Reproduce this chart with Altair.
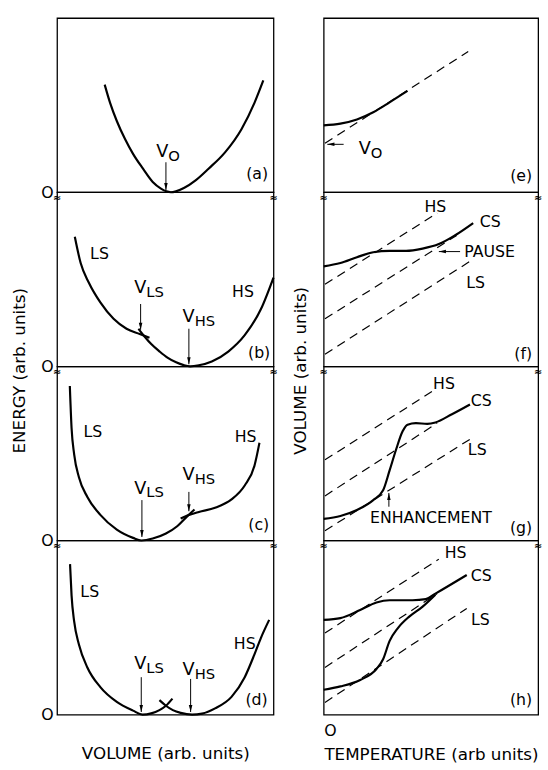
import altair as alt
import pandas as pd

FONT = "DejaVu Sans"

# ---------------- panel (a): energy vs volume ----------------
A_X = [22.0, 24.5, 27.6, 31.4, 35.1, 39.7, 44.2, 48.0, 50.5, 52.6, 54.9, 58.6, 64.0, 70.0, 77.6, 85.2, 91.2, 95.3]
A_Y = [61.8, 51.3, 40.9, 30.5, 22.0, 13.5, 5.9, 2.1, 0.5, 0.0, 0.5, 2.4, 6.8, 13.5, 22.9, 36.2, 51.3, 64.2]
A_LABELS = [("(a)", 97.5, 10.6)]
A_VLABELS = [("V", "O", 51.4, 22.8)]
A_ARROWS = [(50.3, 17.2, 50.3, 1.2)]

# ---------------- panel (b) ----------------
B_LS_X = [8.2, 10.9, 14.7, 20.0, 26.1, 32.1, 38.2, 42.7]
B_LS_Y = [74.4, 59.3, 48.0, 36.7, 27.3, 21.6, 18.6, 16.4]
B_HS_X = [37.6, 40.5, 43.5, 47.3, 51.0, 55.0, 58.5, 61.5, 65.5, 71.5, 79.1, 86.7, 94.2, 100.0]
B_HS_Y = [21.6, 17.0, 12.8, 8.6, 5.0, 2.3, 0.7, 0.0, 0.6, 2.8, 8.5, 17.9, 32.9, 51.0]
B_LABELS = [("LS", 19.6, 64.6), ("HS", 85.9, 42.9), ("(b)", 98.5, 7.5)]
B_VLABELS = [("V", "LS", 41.2, 44.8), ("V", "HS", 63.6, 28.2)]
B_ARROWS = [(38.6, 35.8, 38.6, 21.0), (60.9, 21.6, 60.9, 1.2)]

# ---------------- panel (c) ----------------
C_LS_X = [5.9, 6.7, 7.9, 10.1, 14.0, 20.0, 27.6, 35.1, 39.0, 44.2, 50.3, 55.5, 60.2, 63.5]
C_LS_Y = [88.7, 64.6, 49.5, 36.3, 25.0, 14.7, 6.2, 1.5, 0.0, 1.1, 4.0, 8.2, 14.0, 17.8]
C_HS_X = [57.1, 60.2, 65.5, 73.0, 80.6, 86.7, 91.2, 93.5]
C_HS_Y = [12.6, 14.3, 16.4, 18.8, 23.6, 31.6, 42.9, 56.1]
C_LABELS = [("LS", 16.5, 62.3), ("HS", 87.1, 59.3), ("(c)", 98.0, 8.6)]
C_VLABELS = [("V", "LS", 41.2, 29.8), ("V", "HS", 63.6, 37.3)]
C_ARROWS = [(39.2, 23.2, 39.2, 2.0), (60.9, 27.9, 60.9, 16.8)]

# ---------------- panel (d) ----------------
D_LS_X = [6.0, 6.7, 7.9, 10.1, 14.0, 20.0, 27.6, 35.1, 39.5, 43.5, 47.3, 50.3, 53.3]
D_LS_Y = [86.4, 68.5, 53.5, 40.3, 27.1, 15.8, 7.3, 2.3, 0.0, 0.7, 2.6, 5.1, 9.2]
D_HS_X = [47.3, 50.3, 53.5, 57.1, 62.4, 67.0, 73.0, 80.6, 86.7, 91.2, 94.2, 98.0]
D_HS_Y = [8.3, 5.1, 2.6, 1.0, 0.0, 0.6, 3.6, 10.2, 21.5, 34.6, 44.1, 54.4]
D_LABELS = [("LS", 15.1, 70.4), ("HS", 86.7, 40.7), ("(d)", 97.3, 8.3)]
D_VLABELS = [("V", "LS", 41.2, 29.0), ("V", "HS", 63.6, 25.8)]
D_ARROWS = [(38.9, 21.5, 38.9, 1.5), (61.7, 20.5, 61.7, 1.5)]

# ---------------- panel (e): volume vs temperature ----------------
E_CURVE_X = [0.0, 7.8, 15.5, 23.1, 30.7, 39.1]
E_CURVE_Y = [38.4, 39.4, 41.8, 45.9, 51.6, 58.2]
E_DASH_X = [0.6, 67.4]
E_DASH_Y = [28.1, 80.8]
E_LABELS = [("(e)", 97.2, 9.2)]
E_VLABELS = [("V", "O", 22.0, 24.9)]
E_ARROWS = [(9.3, 27.5, 1.7, 27.5)]

# ---------------- panel (f) ----------------
F_CS_X = [0.0, 7.8, 15.5, 23.1, 30.7, 38.4, 46.1, 53.7, 61.3, 69.7]
F_CS_Y = [57.4, 59.3, 62.7, 65.5, 66.3, 66.3, 67.6, 70.2, 75.3, 82.3]
F_HS_X = [0.6, 52.9]
F_HS_Y = [47.1, 88.0]
F_MID_X = [0.6, 62.0]
F_MID_Y = [27.3, 75.2]
F_LS_X = [0.6, 68.2]
F_LS_Y = [7.0, 60.3]
F_LABELS = [("HS", 52.1, 91.7), ("CS", 77.7, 82.9), ("PAUSE", 65.5, 65.9), ("LS", 70.8, 48.0), ("(f)", 97.2, 7.0)]
F_ARROWS = [(63.6, 65.9, 53.7, 65.9)]

# ---------------- panel (g) ----------------
G_CS_X = [0.0, 7.8, 15.5, 23.1, 27.7, 30.7, 33.8, 36.8, 39.1, 43.0, 48.3, 52.1, 59.8, 68.2]
G_CS_Y = [12.4, 14.1, 17.5, 23.2, 28.8, 40.1, 52.4, 62.7, 66.5, 67.4, 67.0, 67.8, 72.5, 78.1]
G_HS_X = [0.6, 51.4]
G_HS_Y = [46.3, 86.3]
G_MID_X = [0.6, 52.9]
G_MID_Y = [25.6, 67.4]
G_LS_X = [0.6, 69.7]
G_LS_Y = [5.6, 59.3]
G_LABELS = [("HS", 56.1, 90.0), ("CS", 73.5, 80.0), ("LS", 71.6, 51.8), ("ENHANCEMENT", 21.6, 12.8), ("(g)", 97.2, 7.2)]
G_ARROWS = [(30.4, 19.4, 30.4, 27.3)]

# ---------------- panel (h) ----------------
H_UP_X = [0.0, 7.8, 17.0, 24.6, 30.7, 41.4, 47.6, 52.1, 66.7]
H_UP_Y = [54.4, 55.4, 60.1, 64.4, 65.7, 65.7, 66.3, 69.5, 80.2]
H_LOW_X = [0.0, 7.8, 17.0, 24.6, 27.7, 30.7, 34.6, 39.9, 46.0, 52.1]
H_LOW_Y = [14.3, 16.2, 19.9, 26.2, 31.8, 42.2, 49.7, 56.3, 61.9, 68.9]
H_HS_X = [0.6, 53.7]
H_HS_Y = [46.9, 89.3]
H_MID_X = [0.6, 52.9]
H_MID_Y = [27.1, 69.5]
H_LS_X = [0.6, 66.7]
H_LS_Y = [7.0, 61.0]
H_LABELS = [("HS", 61.5, 93.0), ("CS", 73.5, 79.8), ("LS", 73.1, 54.4), ("(h)", 97.2, 8.3)]

BREAK_X = [0.0, 100.0]
BREAK_Y = [100.0, 100.0]

W_L, W_R, H = 220, 218, 177
SCALE = alt.Scale(domain=[0, 100], nice=False, zero=False)
FRAME = alt.ViewBackground(stroke="black", strokeWidth=1.3)

HEAD = {
    "down": "M-0.45,-1.8 L0.45,-1.8 L0,0 Z",
    "up": "M-0.45,1.8 L0.45,1.8 L0,0 Z",
    "left": "M0,0 L1.8,-0.45 L1.8,0.45 Z",
    "right": "M0,0 L-1.8,-0.45 L-1.8,0.45 Z",
}


def xy(xs, ys):
    return pd.DataFrame({"x": xs, "y": ys})


def build_panel(width, solid=(), dashed=(), labels=(), vlabels=(), arrows=(),
                breaks=False, xaxis=None, yaxis=None):
    X = alt.X("x:Q", scale=SCALE, axis=xaxis)
    Y = alt.Y("y:Q", scale=SCALE, axis=yaxis)
    layers = []
    for xs_, ys_ in solid:
        layers.append(alt.Chart(xy(xs_, ys_)).mark_line(
            color="black", strokeWidth=2.2, interpolate="monotone").encode(x=X, y=Y))
    for xs_, ys_ in dashed:
        layers.append(alt.Chart(xy(xs_, ys_)).mark_line(
            color="black", strokeWidth=1.2, strokeDash=[9, 6]).encode(x=X, y=Y))
    if labels:
        groups = {"center": [], "right": [], "left": []}
        for t, lx, ly in labels:
            if t.startswith("("):
                groups["right"].append((t, lx, ly))
            elif t in ("PAUSE", "ENHANCEMENT"):
                groups["left"].append((t, lx, ly))
            else:
                groups["center"].append((t, lx, ly))
        for al, rows in groups.items():
            if not rows:
                continue
            df = pd.DataFrame(rows, columns=["t", "x", "y"])
            layers.append(alt.Chart(df).mark_text(
                font=FONT, fontSize=16, align=al, baseline="middle", color="black").encode(
                x=X, y=Y, text="t:N"))
    if vlabels:
        df = pd.DataFrame(vlabels, columns=["m", "s", "x", "y"])
        layers.append(alt.Chart(df).mark_text(
            font=FONT, fontSize=18, align="right", baseline="middle", color="black").encode(
            x=X, y=Y, text="m:N"))
        layers.append(alt.Chart(df).mark_text(
            font=FONT, fontSize=15, align="left", baseline="middle", dy=4, color="black").encode(
            x=X, y=Y, text="s:N"))
    if arrows:
        df = pd.DataFrame(arrows, columns=["x", "y", "x2", "y2"])
        layers.append(alt.Chart(df).mark_rule(color="black", strokeWidth=1).encode(
            x=X, y=Y, x2="x2:Q", y2="y2:Q"))
        shapes = []
        for x1, y1, x2, y2 in arrows:
            if x1 == x2:
                shapes.append(HEAD["down"] if y2 < y1 else HEAD["up"])
            else:
                shapes.append(HEAD["left"] if x2 < x1 else HEAD["right"])
        hd = pd.DataFrame({"x": df["x2"], "y": df["y2"], "shp": shapes})
        layers.append(alt.Chart(hd).mark_point(
            filled=True, color="black", size=64, opacity=1).encode(
            x=X, y=Y, shape=alt.Shape("shp:N", scale=None, legend=None)))
    if breaks:
        layers.append(alt.Chart(xy(BREAK_X, BREAK_Y)).mark_text(
            text="≈", font=FONT, fontSize=10, fontWeight="bold", dy=6, color="black").encode(x=X, y=Y))
    return alt.layer(*layers).properties(width=width, height=H, view=FRAME)


def o_axis(title=None, **kw):
    base = dict(values=[0], labelExpr="'O'", ticks=False, domain=False, grid=False,
                labelFont=FONT, labelFontSize=16, labelPadding=4, labelColor="black",
                titleFont=FONT, titleFontSize=17, titleFontWeight="normal", titleColor="black")
    base.update(kw)
    base["title"] = title
    return alt.Axis(**base)


left_y_title = o_axis(title="ENERGY (arb. units)", titleX=-38, titleY=181,
                      titleAngle=270, titleAlign="center", titleBaseline="middle")

pa = build_panel(W_L, solid=[(A_X, A_Y)], labels=A_LABELS, vlabels=A_VLABELS,
                 arrows=A_ARROWS, yaxis=o_axis())
pb = build_panel(W_L, solid=[(B_LS_X, B_LS_Y), (B_HS_X, B_HS_Y)], labels=B_LABELS,
                 vlabels=B_VLABELS, arrows=B_ARROWS, breaks=True, yaxis=left_y_title)
pc = build_panel(W_L, solid=[(C_LS_X, C_LS_Y), (C_HS_X, C_HS_Y)], labels=C_LABELS,
                 vlabels=C_VLABELS, arrows=C_ARROWS, breaks=True, yaxis=o_axis())
pd_ = build_panel(W_L, solid=[(D_LS_X, D_LS_Y), (D_HS_X, D_HS_Y)], labels=D_LABELS,
                  vlabels=D_VLABELS, arrows=D_ARROWS, breaks=True, yaxis=o_axis(),
                  xaxis=alt.Axis(values=[0], labels=False, ticks=False, domain=False, grid=False,
                                 title="VOLUME (arb. units)", titleFont=FONT, titleFontSize=17,
                                 titleFontWeight="normal", titleColor="black", titlePadding=32))

right_y_title = alt.Axis(values=[0], labels=False, ticks=False, domain=False, grid=False,
                         title="VOLUME (arb. units)", titleX=-23, titleY=181, titleAngle=270,
                         titleAlign="center", titleBaseline="middle", titleFont=FONT,
                         titleFontSize=17, titleFontWeight="normal", titleColor="black")

pe = build_panel(W_R, solid=[(E_CURVE_X, E_CURVE_Y)], dashed=[(E_DASH_X, E_DASH_Y)],
                 labels=E_LABELS, vlabels=E_VLABELS, arrows=E_ARROWS)
pf = build_panel(W_R, solid=[(F_CS_X, F_CS_Y)],
                 dashed=[(F_HS_X, F_HS_Y), (F_MID_X, F_MID_Y), (F_LS_X, F_LS_Y)],
                 labels=F_LABELS, arrows=F_ARROWS, breaks=True, yaxis=right_y_title)
pg = build_panel(W_R, solid=[(G_CS_X, G_CS_Y)],
                 dashed=[(G_HS_X, G_HS_Y), (G_MID_X, G_MID_Y), (G_LS_X, G_LS_Y)],
                 labels=G_LABELS, arrows=G_ARROWS, breaks=True)
ph = build_panel(W_R, solid=[(H_UP_X, H_UP_Y), (H_LOW_X, H_LOW_Y)],
                 dashed=[(H_HS_X, H_HS_Y), (H_MID_X, H_MID_Y), (H_LS_X, H_LS_Y)],
                 labels=H_LABELS, breaks=True,
                 xaxis=o_axis(title="TEMPERATURE (arb units)", labelPadding=8, titlePadding=9))

left = alt.vconcat(pa, pb, pc, pd_, spacing=0, bounds="flush")
right = alt.vconcat(pe, pf, pg, ph, spacing=0, bounds="flush")

chart = alt.hconcat(left, right, spacing=12).properties(
    padding={"left": 10, "top": 11, "right": 5, "bottom": 5}
).configure(font=FONT).configure_view(stroke="black", strokeWidth=1.3)

chart.save("out.html", embed_options={"renderer": "svg", "actions": False})
